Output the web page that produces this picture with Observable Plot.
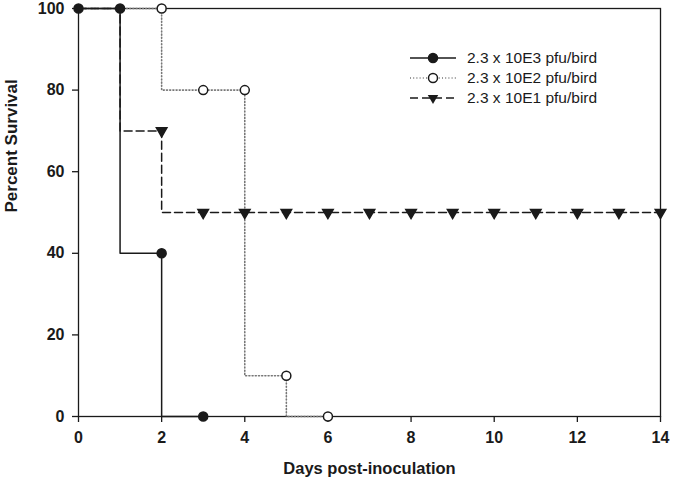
<!DOCTYPE html>
<html><head><meta charset="utf-8">
<script src="https://cdn.jsdelivr.net/npm/d3@7"></script>
<script src="https://cdn.jsdelivr.net/npm/@observablehq/plot@0.6"></script>
<style>body{margin:0;background:#fff}</style>
</head><body><div id="chart"></div>
<script>
const seriesNames = ["2.3 x 10E3 pfu/bird", "2.3 x 10E2 pfu/bird", "2.3 x 10E1 pfu/bird"];
// step curves (survival from that day on)
const highStepDays = [0, 1, 2, 3];
const highStepSurv = [100, 40, 0, 0];
const highMarkDays = [0, 1, 2, 3];
const highMarkSurv = [100, 100, 40, 0];
const midStepDays = [0, 2, 4, 5, 6];
const midStepSurv = [100, 80, 10, 0, 0];
const midMarkDays = [2, 3, 4, 5, 6];
const midMarkSurv = [100, 80, 80, 10, 0];
const lowStepDays = [0, 1, 2, 14];
const lowStepSurv = [100, 70, 50, 50];
const lowMarkDays = [2, 3, 4, 5, 6, 7, 8, 9, 10, 11, 12, 13, 14];
const lowMarkSurv = [70, 50, 50, 50, 50, 50, 50, 50, 50, 50, 50, 50, 50];
const xTicks = [0, 2, 4, 6, 8, 10, 12, 14];
const yTicks = [0, 20, 40, 60, 80, 100];
const xTitle = "Days post-inoculation";
const yTitle = "Percent Survival";

const zip = (xs, ys) => xs.map((x, i) => ({x, y: ys[i]}));
const hiStep = zip(highStepDays, highStepSurv), hiMark = zip(highMarkDays, highMarkSurv);
const midStep = zip(midStepDays, midStepSurv), midMark = zip(midMarkDays, midMarkSurv);
const loStep = zip(lowStepDays, lowStepSurv), loMark = zip(lowMarkDays, lowMarkSurv);

const INK = "#1a1a1a";
const FONT = "'Liberation Sans', Arial, sans-serif";

const chart = Plot.plot({
  width: 675, height: 488,
  marginLeft: 78, marginRight: 15, marginTop: 8, marginBottom: 72,
  x: {domain: [0, 14]},
  y: {domain: [0, 100]},
  style: {fontFamily: FONT, background: "white", color: INK},
  marks: [
    Plot.frame({stroke: INK, strokeWidth: 1.3}),
    Plot.axisX({ticks: xTicks, tickSize: 6, tickPadding: 9, fontSize: 16, fontWeight: "bold", label: null, strokeWidth: 1.3}),
    Plot.axisY({ticks: yTicks, tickSize: 6, tickPadding: 8, fontSize: 16, fontWeight: "bold", label: null, strokeWidth: 1.3}),
    Plot.text([xTitle], {frameAnchor: "bottom", dy: 57, fontSize: 16.5, fontWeight: "bold", fill: INK}),
    Plot.text([yTitle], {frameAnchor: "left", rotate: -90, dx: -67, fontSize: 17, fontWeight: "bold", fill: INK}),
    Plot.line(midStep, {x: "x", y: "y", curve: "step-after", stroke: "#777", strokeWidth: 1.6, strokeDasharray: "1,2.2"}),
    Plot.line(loStep, {x: "x", y: "y", curve: "step-after", stroke: INK, strokeWidth: 1.5, strokeDasharray: "8,4"}),
    Plot.line(hiStep, {x: "x", y: "y", curve: "step-after", stroke: INK, strokeWidth: 1.5}),
    Plot.dot(hiMark, {x: "x", y: "y", r: 4.5, fill: INK, stroke: INK}),
    Plot.dot(midMark, {x: "x", y: "y", r: 4.5, fill: "white", stroke: INK, strokeWidth: 1.5}),
    Plot.dot(loMark, {x: "x", y: "y", symbol: "triangle", rotate: 180, r: 3.9, fill: INK, stroke: INK})
  ]
});
document.getElementById("chart").appendChild(chart);

// legend (inside plot area, upper right)
const svg = d3.select(chart);
const leg = svg.append("g").attr("font-family", FONT).attr("font-size", 15.5)
  .attr("fill", INK).attr("text-anchor", "start");
const styles = [
  {dash: null, stroke: INK, sw: 1.5, sym: "circle", fill: INK},
  {dash: "1,2.2", stroke: "#777", sw: 1.6, sym: "circle", fill: "white"},
  {dash: "8,4", stroke: INK, sw: 1.5, sym: "triangle", fill: INK}
];
seriesNames.forEach((name, i) => {
  const y = 58 + i * 20, s = styles[i];
  const g = leg.append("g").attr("transform", `translate(0,${y})`);
  g.append("line").attr("x1", 410).attr("x2", 456).attr("y1", 0).attr("y2", 0)
    .attr("stroke", s.stroke).attr("stroke-width", s.sw).attr("stroke-dasharray", s.dash);
  if (s.sym === "circle") {
    g.append("circle").attr("cx", 433).attr("cy", 0).attr("r", 4.5)
      .attr("fill", s.fill).attr("stroke", INK).attr("stroke-width", 1.5);
  } else {
    g.append("path").attr("d", d3.symbol(d3.symbolTriangle, Math.PI * 3.9 * 3.9)())
      .attr("transform", "translate(433,0) rotate(180)").attr("fill", INK);
  }
  g.append("text").attr("x", 467).attr("y", 0).attr("dy", "0.35em")
    .attr("text-anchor", "start").text(name);
});
</script>
</body></html>
